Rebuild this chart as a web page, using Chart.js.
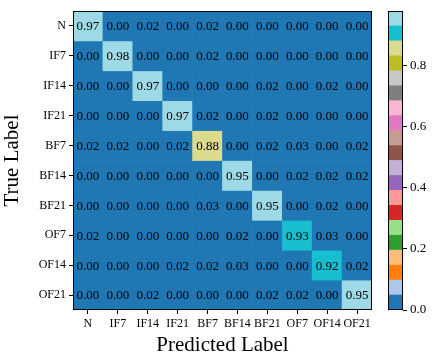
<!DOCTYPE html>
<html lang="en">
<head>
    <meta charset="UTF-8">
    <title>Confusion matrix</title>
    <script src="https://cdn.jsdelivr.net/npm/chart.js"></script>
    <style>
        body { margin: 0; background: #fff; }
        #wrap { position: relative; width: 436px; height: 358px; }
        #cm { position: absolute; left: 0; top: 0; }
        #cbar { position: absolute; left: 380px; top: 0; }
    </style>
</head>
<body>
    <div id="wrap">
        <canvas id="cm" width="380" height="358"></canvas>
        <canvas id="cbar" width="56" height="358"></canvas>
    </div>
    <script>
        var labels = ['N', 'IF7', 'IF14', 'IF21', 'BF7', 'BF14', 'BF21', 'OF7', 'OF14', 'OF21'];
        var rowN    = [0.97, 0.00, 0.02, 0.00, 0.02, 0.00, 0.00, 0.00, 0.00, 0.00];
        var rowIF7  = [0.00, 0.98, 0.00, 0.00, 0.02, 0.00, 0.00, 0.00, 0.00, 0.00];
        var rowIF14 = [0.00, 0.00, 0.97, 0.00, 0.00, 0.00, 0.02, 0.00, 0.02, 0.00];
        var rowIF21 = [0.00, 0.00, 0.00, 0.97, 0.02, 0.00, 0.02, 0.00, 0.00, 0.00];
        var rowBF7  = [0.02, 0.02, 0.00, 0.02, 0.88, 0.00, 0.02, 0.03, 0.00, 0.02];
        var rowBF14 = [0.00, 0.00, 0.00, 0.00, 0.00, 0.95, 0.00, 0.02, 0.02, 0.02];
        var rowBF21 = [0.00, 0.00, 0.00, 0.00, 0.03, 0.00, 0.95, 0.00, 0.02, 0.00];
        var rowOF7  = [0.02, 0.00, 0.00, 0.00, 0.00, 0.02, 0.00, 0.93, 0.03, 0.00];
        var rowOF14 = [0.00, 0.00, 0.00, 0.02, 0.02, 0.03, 0.00, 0.00, 0.92, 0.02];
        var rowOF21 = [0.00, 0.00, 0.02, 0.00, 0.00, 0.00, 0.02, 0.02, 0.00, 0.95];
        var rows = [rowN, rowIF7, rowIF14, rowIF21, rowBF7, rowBF14, rowBF21, rowOF7, rowOF14, rowOF21];
        var cbarTicks = [0, 0.2, 0.4, 0.6, 0.8];
        var vmax = 0.98;

        // matplotlib tab20
        var tab20 = ['#1f77b4', '#aec7e8', '#ff7f0e', '#ffbb78', '#2ca02c', '#98df8a', '#d62728', '#ff9896',
                     '#9467bd', '#c5b0d5', '#8c564b', '#c49c94', '#e377c2', '#f7b6d2', '#7f7f7f', '#c7c7c7',
                     '#bcbd22', '#dbdb8d', '#17becf', '#9edae5'];
        function cmap(v) {
            var i = Math.floor(v / vmax * 20);
            return tab20[Math.max(0, Math.min(19, i))];
        }

        var serif = '"Liberation Serif", "Times New Roman", serif';
        Chart.defaults.font.family = serif;
        Chart.defaults.color = '#000';

        var frame = {
            id: 'frame',
            afterDraw: function(chart) {
                var a = chart.chartArea, c = chart.ctx;
                c.save();
                c.strokeStyle = '#000';
                c.lineWidth = 1;
                c.strokeRect(Math.round(a.left) + 0.5, Math.round(a.top) + 0.5,
                             Math.round(a.right - a.left) - 1, Math.round(a.bottom - a.top) - 1);
                c.restore();
            }
        };

        var cellText = {
            id: 'cellText',
            afterDatasetsDraw: function(chart) {
                var c = chart.ctx, xs = chart.scales.x, ys = chart.scales.y;
                c.save();
                c.font = '13px ' + serif;
                c.fillStyle = '#000';
                c.textAlign = 'center';
                c.textBaseline = 'middle';
                rows.forEach(function(r, i) {
                    r.forEach(function(v, j) {
                        c.fillText(v.toFixed(2), xs.getPixelForValue(j), ys.getPixelForValue(i + 0.5) + 1);
                    });
                });
                c.restore();
            }
        };

        var tickGrid = { display: true, drawOnChartArea: false, drawTicks: true, tickLength: 4, color: '#000', offset: false };

        new Chart(document.getElementById('cm'), {
            type: 'bar',
            data: {
                labels: labels,
                datasets: rows.map(function(r, i) {
                    return {
                        label: labels[i],
                        data: r.map(function() { return 1; }),
                        backgroundColor: r.map(cmap),
                        borderWidth: 0,
                        barPercentage: 1,
                        categoryPercentage: 1
                    };
                })
            },
            options: {
                responsive: false,
                animation: false,
                layout: { padding: { top: 11, right: 8, left: 0, bottom: 0 } },
                plugins: { legend: { display: false }, tooltip: { enabled: false } },
                scales: {
                    x: {
                        stacked: true,
                        grid: tickGrid,
                        border: { display: false },
                        ticks: { font: { size: 12 }, padding: 3, maxRotation: 0, autoSkip: false },
                        title: { display: true, text: 'Predicted Label', font: { size: 21 }, padding: { top: 2, bottom: 0 } },
                        afterFit: function(s) { s.height = 48; }
                    },
                    y: {
                        type: 'linear',
                        stacked: true,
                        min: 0,
                        max: 10,
                        reverse: true,
                        grid: tickGrid,
                        border: { display: false },
                        afterBuildTicks: function(s) {
                            s.ticks = labels.map(function(l, i) { return { value: i + 0.5 }; });
                        },
                        ticks: {
                            font: { size: 12 },
                            padding: 3,
                            callback: function(v, i) { return labels[i]; }
                        },
                        title: { display: true, text: 'True Label', font: { size: 21 }, padding: { top: 0, bottom: 4 } },
                        afterFit: function(s) { s.width = 73; }
                    }
                }
            },
            plugins: [cellText, frame]
        });

        new Chart(document.getElementById('cbar'), {
            type: 'bar',
            data: {
                labels: [''],
                datasets: tab20.map(function(col) {
                    return { data: [vmax / 20], backgroundColor: col, borderWidth: 0, barPercentage: 1, categoryPercentage: 1 };
                })
            },
            options: {
                responsive: false,
                animation: false,
                layout: { padding: { top: 11, left: 8, right: 0, bottom: 48 } },
                plugins: { legend: { display: false }, tooltip: { enabled: false } },
                scales: {
                    x: { stacked: true, display: false },
                    y: {
                        stacked: true,
                        position: 'right',
                        min: 0,
                        max: vmax,
                        grid: { display: true, drawOnChartArea: false, drawTicks: true, tickLength: 4, color: '#000' },
                        border: { display: false },
                        afterBuildTicks: function(s) {
                            s.ticks = cbarTicks.map(function(v) { return { value: v }; });
                        },
                        ticks: { font: { size: 13 }, padding: 3, callback: function(v) { return v.toFixed(1); } },
                        afterFit: function(s) { s.width = 33; }
                    }
                }
            },
            plugins: [frame]
        });
    </script>
</body>
</html>
